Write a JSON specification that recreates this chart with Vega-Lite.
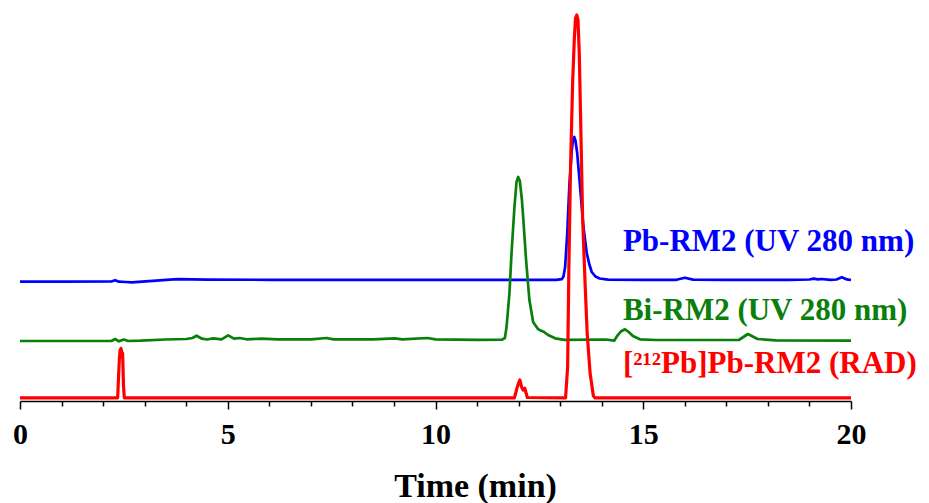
{
  "$schema": "https://vega.github.io/schema/vega-lite/v6.json",
  "autosize": {"type": "none"},
  "width": 831,
  "height": 401,
  "padding": {"left": 20, "right": 78, "top": 0, "bottom": 102},
  "background": "white",
  "config": {"view": {"stroke": null}},
  "datasets": {
    "traces": [
      {"series": "Pb-RM2", "t": 0, "s": 118.3},
      {"series": "Pb-RM2", "t": 1.0, "s": 118.3},
      {"series": "Pb-RM2", "t": 2.2, "s": 118.5},
      {"series": "Pb-RM2", "t": 2.29, "s": 119.8},
      {"series": "Pb-RM2", "t": 2.38, "s": 118.3},
      {"series": "Pb-RM2", "t": 2.55, "s": 118.0},
      {"series": "Pb-RM2", "t": 2.7, "s": 117.6},
      {"series": "Pb-RM2", "t": 2.85, "s": 118.2},
      {"series": "Pb-RM2", "t": 3.2, "s": 119.2},
      {"series": "Pb-RM2", "t": 3.6, "s": 120.3},
      {"series": "Pb-RM2", "t": 3.8, "s": 120.8},
      {"series": "Pb-RM2", "t": 4.5, "s": 120.4},
      {"series": "Pb-RM2", "t": 6.0, "s": 120.2},
      {"series": "Pb-RM2", "t": 8.0, "s": 120.2},
      {"series": "Pb-RM2", "t": 10.0, "s": 120.2},
      {"series": "Pb-RM2", "t": 12.0, "s": 120.2},
      {"series": "Pb-RM2", "t": 12.9, "s": 120.2},
      {"series": "Pb-RM2", "t": 13.04, "s": 120.8},
      {"series": "Pb-RM2", "t": 13.08, "s": 123.5},
      {"series": "Pb-RM2", "t": 13.12, "s": 133},
      {"series": "Pb-RM2", "t": 13.17, "s": 166},
      {"series": "Pb-RM2", "t": 13.22, "s": 213},
      {"series": "Pb-RM2", "t": 13.28, "s": 250},
      {"series": "Pb-RM2", "t": 13.31, "s": 260},
      {"series": "Pb-RM2", "t": 13.34, "s": 263},
      {"series": "Pb-RM2", "t": 13.37, "s": 259},
      {"series": "Pb-RM2", "t": 13.41, "s": 247},
      {"series": "Pb-RM2", "t": 13.48, "s": 213},
      {"series": "Pb-RM2", "t": 13.56, "s": 173},
      {"series": "Pb-RM2", "t": 13.64, "s": 147},
      {"series": "Pb-RM2", "t": 13.70, "s": 136},
      {"series": "Pb-RM2", "t": 13.76, "s": 128},
      {"series": "Pb-RM2", "t": 13.85, "s": 123.5},
      {"series": "Pb-RM2", "t": 13.95, "s": 121.5},
      {"series": "Pb-RM2", "t": 14.15, "s": 120.3},
      {"series": "Pb-RM2", "t": 15.0, "s": 120.2},
      {"series": "Pb-RM2", "t": 15.8, "s": 120.2},
      {"series": "Pb-RM2", "t": 16.0, "s": 122.3},
      {"series": "Pb-RM2", "t": 16.2, "s": 120.4},
      {"series": "Pb-RM2", "t": 17.0, "s": 120.1},
      {"series": "Pb-RM2", "t": 18.5, "s": 120.1},
      {"series": "Pb-RM2", "t": 19.0, "s": 120.5},
      {"series": "Pb-RM2", "t": 19.1, "s": 121.3},
      {"series": "Pb-RM2", "t": 19.2, "s": 120.6},
      {"series": "Pb-RM2", "t": 19.3, "s": 121.0},
      {"series": "Pb-RM2", "t": 19.5, "s": 120.1},
      {"series": "Pb-RM2", "t": 19.65, "s": 120.5},
      {"series": "Pb-RM2", "t": 19.78, "s": 122.8},
      {"series": "Pb-RM2", "t": 19.9, "s": 120.6},
      {"series": "Pb-RM2", "t": 20.0, "s": 120.0},

      {"series": "Bi-RM2", "t": 0, "s": 59},
      {"series": "Bi-RM2", "t": 2.2, "s": 59},
      {"series": "Bi-RM2", "t": 2.29, "s": 61},
      {"series": "Bi-RM2", "t": 2.38, "s": 58.7},
      {"series": "Bi-RM2", "t": 2.5, "s": 60.5},
      {"series": "Bi-RM2", "t": 2.6, "s": 59},
      {"series": "Bi-RM2", "t": 2.9, "s": 59.3},
      {"series": "Bi-RM2", "t": 3.5, "s": 60.5},
      {"series": "Bi-RM2", "t": 4.0, "s": 61},
      {"series": "Bi-RM2", "t": 4.15, "s": 62},
      {"series": "Bi-RM2", "t": 4.25, "s": 64.3},
      {"series": "Bi-RM2", "t": 4.38, "s": 61.3},
      {"series": "Bi-RM2", "t": 4.5, "s": 60.5},
      {"series": "Bi-RM2", "t": 4.65, "s": 61.7},
      {"series": "Bi-RM2", "t": 4.85, "s": 60.7},
      {"series": "Bi-RM2", "t": 5.01, "s": 64.7},
      {"series": "Bi-RM2", "t": 5.15, "s": 61.3},
      {"series": "Bi-RM2", "t": 5.29, "s": 62},
      {"series": "Bi-RM2", "t": 5.45, "s": 60.7},
      {"series": "Bi-RM2", "t": 5.81, "s": 61.3},
      {"series": "Bi-RM2", "t": 6.2, "s": 60.7},
      {"series": "Bi-RM2", "t": 7.0, "s": 60.7},
      {"series": "Bi-RM2", "t": 7.38, "s": 62},
      {"series": "Bi-RM2", "t": 7.55, "s": 60.7},
      {"series": "Bi-RM2", "t": 8.5, "s": 60.7},
      {"series": "Bi-RM2", "t": 9.02, "s": 61.7},
      {"series": "Bi-RM2", "t": 9.2, "s": 60.7},
      {"series": "Bi-RM2", "t": 9.81, "s": 62},
      {"series": "Bi-RM2", "t": 10.0, "s": 60.7},
      {"series": "Bi-RM2", "t": 11.0, "s": 60.2},
      {"series": "Bi-RM2", "t": 11.6, "s": 60.3},
      {"series": "Bi-RM2", "t": 11.67, "s": 62},
      {"series": "Bi-RM2", "t": 11.71, "s": 73},
      {"series": "Bi-RM2", "t": 11.78, "s": 107},
      {"series": "Bi-RM2", "t": 11.83, "s": 147},
      {"series": "Bi-RM2", "t": 11.90, "s": 193},
      {"series": "Bi-RM2", "t": 11.95, "s": 218},
      {"series": "Bi-RM2", "t": 11.99, "s": 223},
      {"series": "Bi-RM2", "t": 12.03, "s": 219},
      {"series": "Bi-RM2", "t": 12.08, "s": 200},
      {"series": "Bi-RM2", "t": 12.11, "s": 183},
      {"series": "Bi-RM2", "t": 12.18, "s": 140},
      {"series": "Bi-RM2", "t": 12.26, "s": 100},
      {"series": "Bi-RM2", "t": 12.35, "s": 78},
      {"series": "Bi-RM2", "t": 12.47, "s": 70.7},
      {"series": "Bi-RM2", "t": 12.60, "s": 68.3},
      {"series": "Bi-RM2", "t": 12.71, "s": 65},
      {"series": "Bi-RM2", "t": 12.88, "s": 61.7},
      {"series": "Bi-RM2", "t": 13.1, "s": 60.2},
      {"series": "Bi-RM2", "t": 14.1, "s": 60.5},
      {"series": "Bi-RM2", "t": 14.3, "s": 59.3},
      {"series": "Bi-RM2", "t": 14.36, "s": 63.3},
      {"series": "Bi-RM2", "t": 14.46, "s": 68.5},
      {"series": "Bi-RM2", "t": 14.56, "s": 70.7},
      {"series": "Bi-RM2", "t": 14.65, "s": 68},
      {"series": "Bi-RM2", "t": 14.75, "s": 64},
      {"series": "Bi-RM2", "t": 14.92, "s": 60.7},
      {"series": "Bi-RM2", "t": 15.3, "s": 60},
      {"series": "Bi-RM2", "t": 17.3, "s": 60},
      {"series": "Bi-RM2", "t": 17.52, "s": 66},
      {"series": "Bi-RM2", "t": 17.75, "s": 61},
      {"series": "Bi-RM2", "t": 18.2, "s": 59.6},
      {"series": "Bi-RM2", "t": 20.0, "s": 59.4},

      {"series": "212Pb-RM2", "t": 0, "s": 2.2},
      {"series": "212Pb-RM2", "t": 2.35, "s": 2.2},
      {"series": "212Pb-RM2", "t": 2.39, "s": 40},
      {"series": "212Pb-RM2", "t": 2.41, "s": 50},
      {"series": "212Pb-RM2", "t": 2.43, "s": 51.5},
      {"series": "212Pb-RM2", "t": 2.45, "s": 48},
      {"series": "212Pb-RM2", "t": 2.47, "s": 46.7},
      {"series": "212Pb-RM2", "t": 2.49, "s": 15},
      {"series": "212Pb-RM2", "t": 2.51, "s": 2.2},
      {"series": "212Pb-RM2", "t": 11.9, "s": 2.2},
      {"series": "212Pb-RM2", "t": 11.97, "s": 13.3},
      {"series": "212Pb-RM2", "t": 12.0, "s": 17},
      {"series": "212Pb-RM2", "t": 12.03, "s": 20},
      {"series": "212Pb-RM2", "t": 12.07, "s": 13.3},
      {"series": "212Pb-RM2", "t": 12.11, "s": 10},
      {"series": "212Pb-RM2", "t": 12.15, "s": 11.7},
      {"series": "212Pb-RM2", "t": 12.21, "s": 2.5},
      {"series": "212Pb-RM2", "t": 13.13, "s": 2.2},
      {"series": "212Pb-RM2", "t": 13.18, "s": 33},
      {"series": "212Pb-RM2", "t": 13.21, "s": 133},
      {"series": "212Pb-RM2", "t": 13.25, "s": 233},
      {"series": "212Pb-RM2", "t": 13.30, "s": 317},
      {"series": "212Pb-RM2", "t": 13.34, "s": 360},
      {"series": "212Pb-RM2", "t": 13.37, "s": 382},
      {"series": "212Pb-RM2", "t": 13.40, "s": 385},
      {"series": "212Pb-RM2", "t": 13.43, "s": 380},
      {"series": "212Pb-RM2", "t": 13.46, "s": 347},
      {"series": "212Pb-RM2", "t": 13.50, "s": 267},
      {"series": "212Pb-RM2", "t": 13.54, "s": 183},
      {"series": "212Pb-RM2", "t": 13.60, "s": 117},
      {"series": "212Pb-RM2", "t": 13.65, "s": 67},
      {"series": "212Pb-RM2", "t": 13.72, "s": 27},
      {"series": "212Pb-RM2", "t": 13.80, "s": 4},
      {"series": "212Pb-RM2", "t": 13.84, "s": 2.2},
      {"series": "212Pb-RM2", "t": 20.0, "s": 2.2}
    ],
    "labels": [
      {"series": "Pb-RM2", "label": "Pb-RM2 (UV 280 nm)", "t": 14.51, "s": 149.3},
      {"series": "Bi-RM2", "label": "Bi-RM2 (UV 280 nm)", "t": 14.51, "s": 80},
      {"series": "212Pb-RM2", "label": "[²¹²Pb]Pb-RM2 (RAD)", "t": 14.51, "s": 26.7}
    ]
  },
  "encoding": {
    "x": {
      "field": "t", "type": "quantitative",
      "scale": {"domain": [0, 20], "nice": false, "zero": false},
      "axis": {
        "values": [0,1,2,3,4,5,6,7,8,9,10,11,12,13,14,15,16,17,18,19,20],
        "labelExpr": "datum.value % 5 === 0 ? datum.label : ''",
        "tickSize": {"condition": {"test": "datum.value % 5 === 0", "value": 8}, "value": 5},
        "tickWidth": 1.5, "tickColor": "black",
        "domainColor": "black", "domainWidth": 1.5,
        "grid": false,
        "labelFont": "Liberation Serif", "labelFontWeight": "bold", "labelFontSize": 30, "labelColor": "black",
        "labelBaseline": "alphabetic", "labelPadding": 34,
        "labelFlush": false, "labelOverlap": false,
        "title": "Time (min)",
        "titleFont": "Liberation Serif", "titleFontWeight": "bold", "titleFontSize": 34, "titleColor": "black",
        "titleBaseline": "alphabetic", "titleY": 95, "titleX": 455, "titleAlign": "center"
      }
    },
    "y": {
      "field": "s", "type": "quantitative",
      "scale": {"domain": [-1, 400], "nice": false, "zero": false},
      "axis": null
    },
    "color": {
      "field": "series", "type": "nominal",
      "scale": {"domain": ["Pb-RM2", "Bi-RM2", "212Pb-RM2"], "range": ["#0000FF", "#0A800A", "#FF0000"]},
      "legend": null
    }
  },
  "layer": [
    {
      "data": {"name": "traces"},
      "transform": [{"filter": "datum.series === 'Pb-RM2'"}],
      "mark": {"type": "line", "strokeWidth": 2.7, "strokeJoin": "round"}
    },
    {
      "data": {"name": "traces"},
      "transform": [{"filter": "datum.series === 'Bi-RM2'"}],
      "mark": {"type": "line", "strokeWidth": 2.7, "strokeJoin": "round"}
    },
    {
      "data": {"name": "traces"},
      "transform": [{"filter": "datum.series === '212Pb-RM2'"}],
      "mark": {"type": "line", "strokeWidth": 3.2, "strokeJoin": "round"}
    },
    {
      "data": {"name": "labels"},
      "mark": {"type": "text", "align": "left", "baseline": "alphabetic", "font": "Liberation Serif", "fontWeight": "bold", "fontSize": 31},
      "encoding": {"text": {"field": "label"}}
    }
  ]
}
